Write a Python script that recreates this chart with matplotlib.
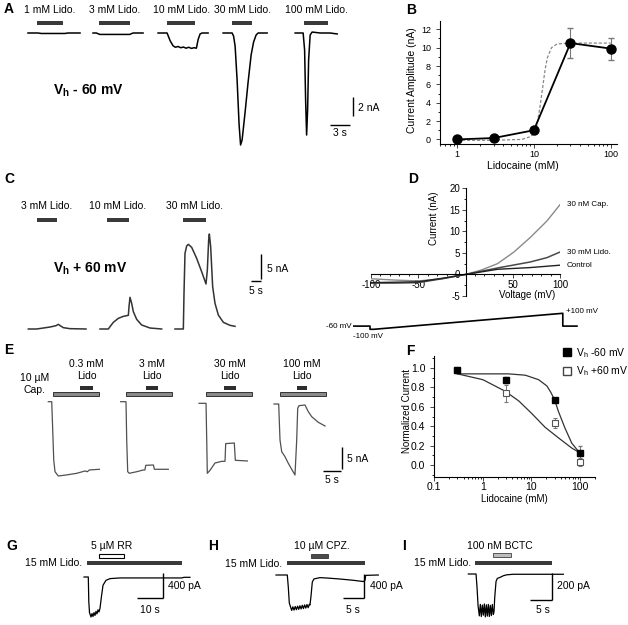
import numpy as np
import matplotlib
matplotlib.use('Agg')
import matplotlib.pyplot as plt
from matplotlib.lines import Line2D
from matplotlib.ticker import MultipleLocator, LogLocator, NullFormatter

plt.rcParams['font.family'] = ['Liberation Sans', 'DejaVu Sans']
plt.rcParams['mathtext.fontset'] = 'custom'
plt.rcParams['mathtext.rm'] = 'Liberation Sans'
plt.rcParams['mathtext.bf'] = 'Liberation Sans:bold'
plt.rcParams['mathtext.it'] = 'Liberation Sans:italic'
plt.rcParams['axes.unicode_minus'] = False

# ---------------- data ----------------
# A: Vh -60 mV, time (s) vs current (nA)
a_labels = ['1 mM Lido.', '3 mM Lido.', '10 mM Lido.', '30 mM Lido.', '100 mM Lido.']
a_t = [
    [0, 1.5, 2.0, 5.5, 6.0, 7.8],
    [0, 0.5, 1.0, 5.5, 6.0, 7.5],
    [0, 1.35, 1.8, 2.25, 2.6, 3.0, 3.4, 3.8, 4.2, 4.6, 5.0, 5.4, 5.75, 6.0, 6.3, 6.6, 7.5],
    [0, 1.35, 1.57, 1.8, 2.1, 2.4, 2.62, 2.85, 3.3, 3.75, 4.2, 4.57, 4.95, 5.25, 6.6],
    [0, 1.2, 1.42, 1.57, 1.72, 1.87, 2.02, 2.25, 2.55, 3.75, 5.25, 6.3],
]
a_i = [
    [0, 0, -0.05, -0.05, 0, 0],
    [0, 0, -0.15, -0.15, 0, 0],
    [0, 0, -0.8, -1.35, -1.5, -1.42, -1.55, -1.48, -1.6, -1.5, -1.62, -1.55, -1.6, -0.7, -0.1, 0, 0],
    [0, 0, -0.32, -1.37, -4.95, -9.68, -11.79, -11.26, -8.32, -5.16, -2.32, -0.95, -0.21, 0, 0],
    [0, 0, -1.79, -7.05, -10.74, -8.11, -2.84, -0.21, 0.1, 0, 0, -0.1],
]
a_drug = [(1.35, 5.25), (0.9, 5.55), (1.35, 5.55), (1.35, 4.35), (1.35, 4.95)]

# B: dose response
b_conc = [1, 3, 10, 30, 100]
b_amp = [0.0, 0.15, 1.0, 10.5, 9.9]
b_err = [0.0, 0.0, 0.0, 1.6, 1.2]
b_fit_x = [1, 3, 7, 9, 10, 11, 12, 13, 14, 15, 17, 20, 30, 100]
b_fit_y = [-0.1, -0.1, 0.0, 0.3, 0.6, 1.6, 3.5, 5.6, 7.6, 8.9, 10.0, 10.4, 10.5, 10.5]

# C: Vh +60 mV
c_labels = ['3 mM Lido.', '10 mM Lido.', '30 mM Lido.']
c_t = [
    [0, 4.17, 7.5, 10.83, 13.83, 15.0, 16.17, 17.5, 20.83, 28.83],
    [0, 4.17, 5.0, 6.67, 9.17, 11.67, 14.17, 14.5, 15.0, 15.83, 16.67, 18.33, 20.83, 25.0, 30.83],
    [0, 4.17, 4.5, 5.0, 5.83, 6.67, 8.33, 10.83, 13.33, 15.5, 16.17, 16.83, 17.17, 17.83, 18.83,
     20.0, 21.67, 24.17, 27.5, 30.0],
]
c_i = [
    [0, 0, 0.2, 0.4, 0.67, 0.94, 0.61, 0.27, 0.07, 0],
    [0, 0, 0.47, 1.35, 2.16, 2.56, 2.77, 4.52, 6.41, 5.2, 3.51, 1.96, 0.81, 0.2, 0],
    [0, 0, 7.22, 15.32, 16.8, 17.14, 16.53, 14.3, 11.6, 9.11, 11.94, 18.02, 19.23, 16.67, 8.57,
     5.2, 2.83, 1.35, 0.74, 0.54],
]
c_drug = [(4.35, 14.35), (3.5, 14.5), (4.0, 15.5)]

# D: I-V curves (mV, nA)
d_v_cap = [-100, -75, -50, -25, 0, 16.4, 33.8, 51.2, 68.6, 86.1, 100]
d_i_cap = [-1.0, -1.3, -1.5, -1.0, 0, 1.0, 2.5, 5.2, 8.6, 12.4, 16.2]
d_v_lido = [-100, -75, -50, -25, 0, 33.8, 68.6, 86.1, 100]
d_i_lido = [-2.0, -2.0, -1.9, -1.0, 0, 1.5, 2.9, 3.9, 5.2]
d_v_ctrl = [-100, -75, -50, -25, 0, 33.8, 68.6, 100]
d_i_ctrl = [-1.9, -1.8, -1.7, -0.9, 0, 1.2, 1.6, 2.15]
prot_t = [0, 90, 90, 110, 1110, 1110, 1185]
prot_v = [-60, -60, -100, -100, 100, -60, -60]

# E: 10 uM capsaicin + lidocaine
e_labels = ['0.3 mM\nLido', '3 mM\nLido', '30 mM\nLido', '100 mM\nLido']
e_t = [
    [0, 0.98, 1.27, 1.56, 1.93, 2.88, 5.10, 8.18, 10.58, 11.24, 11.82, 14.70],
    [0, 1.53, 1.73, 2.02, 2.48, 4.61, 6.51, 6.97, 7.23, 9.42, 9.71, 13.72],
    [0, 2.02, 2.22, 2.39, 3.17, 4.61, 6.54, 7.49, 7.69, 10.17, 10.46, 13.92],
    [0, 1.35, 1.73, 2.22, 3.17, 4.12, 5.1, 6.05, 6.54, 6.83, 7.2, 8.93, 9.89, 10.86, 12.77, 14.70],
]
e_i = [
    [0, 0, -6.54, -13.46, -16.17, -17.16, -16.93, -16.54, -16.0, -16.17, -15.77, -15.61],
    [0, 0, -8.85, -16.17, -16.54, -16.17, -15.77, -15.77, -14.69, -14.62, -15.61, -15.61],
    [-0.37, -0.37, -8.85, -16.54, -15.84, -14.16, -13.77, -13.77, -9.68, -9.54, -13.53, -13.69],
    [-0.53, -0.53, -8.85, -11.55, -12.7, -14.23, -15.61, -16.93, -8.85, -1.52, -0.92, -0.76,
     -2.31, -3.46, -4.76, -5.61],
]
e_cap = [(1.35, 14.7), (1.53, 14.87), (1.93, 15.19), (1.73, 14.9)]
e_lido = [(9.14, 12.8), (7.29, 10.75), (7.2, 10.66), (6.63, 9.51)]

# F: normalized current
f_conc = [0.3, 3, 30, 100]
f_neg60 = [0.98, 0.88, 0.67, 0.12]
f_neg60_err = [0.01, 0.03, 0.01, 0.08]
f_pos60 = [0.98, 0.74, 0.43, 0.03]
f_pos60_err = [0.01, 0.09, 0.05, 0.04]
f_fit1_x = [0.3, 3.4, 7.5, 14, 20.8, 25, 30, 36, 49, 67.6, 100]
f_fit1_y = [0.94, 0.94, 0.926, 0.88, 0.815, 0.75, 0.67, 0.55, 0.38, 0.225, 0.12]
f_fit2_x = [0.3, 1, 2.9, 5.5, 10.2, 19, 36, 67.6, 100]
f_fit2_y = [0.94, 0.88, 0.76, 0.66, 0.53, 0.39, 0.28, 0.175, 0.125]

# G, H, I: 15 mM lidocaine + blockers (s, pA)
g_t = [0, 1.72, 1.92, 2.2, 2.8, 3.2, 3.6, 4.0, 4.4, 4.8, 5.2, 5.6, 6.0, 6.4, 7.0, 7.6, 8.8,
       10.4, 14.4, 26.4, 39.1, 40.0, 42.4]
g_i = [0, 0, -395, -570, -640, -585, -632, -570, -615, -550, -590, -525, -560, -500, -307, -132,
       -53, -26, -15, -15, -15, -5, -5]
h_t = [0, 2.88, 3.14, 3.39, 4.0, 4.3, 4.6, 4.9, 5.2, 5.5, 5.8, 6.1, 6.4, 6.7, 7.0, 7.3, 7.6, 7.9,
       8.2, 8.5, 8.67, 8.93, 9.26, 9.69, 11.22, 12.93, 16.33, 19.72, 22.27, 22.7, 22.88, 26.1]
h_i = [0, 0, -205, -467, -590, -530, -585, -525, -578, -520, -572, -512, -566, -505, -560, -498,
       -552, -492, -545, -488, -500, -350, -117, -65, -44, -50, -67, -88, -109, -88, -6, 0]
i_t = [0, 1.93, 2.18, 2.43, 2.75, 3.0, 3.25, 3.5, 3.75, 4.0, 4.25, 4.5, 4.75, 5.0, 5.25, 5.5,
       5.75, 6.0, 6.25, 6.43, 6.6, 6.93, 7.25, 7.93, 8.75, 9.6, 11.25, 23.75]
i_i = [0, 0, -99, -233, -310, -225, -315, -230, -305, -222, -318, -228, -312, -225, -315, -232,
       -308, -226, -300, -278, -174, -55, -33, -25, -13, -6, -2, -2]

# ---------------- figure ----------------
W, H = 628, 625
fig = plt.figure(figsize=(W / 100, H / 100), dpi=100)
DARK = '#3a3a3a'


def px_axes(x0, y0, w, h):
    ax = fig.add_axes([x0 / W, 1 - (y0 + h) / H, w / W, h / H])
    ax.patch.set_visible(False)
    return ax


def trace_axes(x0, y0, w, h, px_x, px_y, base_y):
    # invisible axes where 1 unit = px_x / px_y pixels and 0 sits at base_y
    ax = px_axes(x0, y0, w, h)
    ax.set_xlim(0, w / px_x)
    ax.set_ylim(-(y0 + h - base_y) / px_y, (base_y - y0) / px_y)
    ax.axis('off')
    return ax


def letter(x, y, s):
    fig.text(x / W, 1 - y / H, s, fontsize=10, fontweight='bold', ha='left', va='center')


def sline(ax, xs, ys):
    ax.plot(xs, ys, color='k', lw=1.0, solid_capstyle='butt', clip_on=False)


# ---- A ----
ax_a = trace_axes(20, 0, 350, 160, 6.67, 9.5, 33)
a_pos = [1.2, 10.95, 20.7, 30.45, 41.25]
for k in range(5):
    off = a_pos[k]
    ax_a.plot(np.array(a_t[k]) + off, a_i[k], color='k', lw=1.1)
    d0, d1 = a_drug[k]
    ax_a.barh(1.05, d1 - d0, left=off + d0, height=0.42, color=DARK)
    ax_a.text(off + (d0 + d1) / 2, 2.42, a_labels[k], ha='center', va='center', fontsize=7.5)
ax_a.text(4.95, -6.1, r'V$_\mathbf{h}$ - 60 mV', fontsize=10, fontweight='bold', va='center')
sline(ax_a, [46.5, 49.5], [-9.68, -9.68])
sline(ax_a, [49.95, 49.95], [-6.74, -8.77])
ax_a.text(50.6, -7.9, '2 nA', fontsize=7.5, va='center')
ax_a.text(48.0, -10.5, '3 s', fontsize=7.5, ha='center', va='center')
letter(4, 9, 'A')

# ---- B ----
ax_b = px_axes(440, 20.7, 177, 123.3)
ax_b.plot(b_fit_x, b_fit_y, color='#888888', ls=(0, (2.5, 1.5)), lw=0.9)
ax_b.errorbar(b_conc, b_amp, yerr=b_err, fmt='-o', color='k', ms=6.5, lw=1.3,
              ecolor='#777777', elinewidth=0.8, capsize=2)
ax_b.set_xscale('log')
ax_b.set_xlim(0.6, 121)
ax_b.set_ylim(-0.5, 12.94)
ax_b.set_xticks([1, 10, 100])
ax_b.set_xticklabels(['1', '10', '100'])
ax_b.xaxis.set_minor_locator(LogLocator(subs=np.arange(2, 10)))
ax_b.xaxis.set_minor_formatter(NullFormatter())
ax_b.set_yticks(range(0, 13, 2))
ax_b.yaxis.set_minor_locator(MultipleLocator(1))
for s in ['top', 'right']:
    ax_b.spines[s].set_visible(False)
ax_b.tick_params(labelsize=6.5, length=3, width=0.7, color='#444')
ax_b.tick_params(axis='x', pad=1.5)
ax_b.tick_params(which='minor', length=1.5, width=0.6)
ax_b.set_ylabel('Current Amplitude (nA)', fontsize=7.5)
ax_b.set_xlabel('Lidocaine (mM)', fontsize=7.5)
ax_b.yaxis.set_label_coords(-0.13, 0.52)
ax_b.xaxis.set_label_coords(0.47, -0.135)
letter(406, 10, 'B')

# ---- C ----
ax_c = trace_axes(20, 170, 290, 170, 2.0, 4.94, 329)
c_pos = [4.17, 40.0, 77.5]
for k in range(3):
    off = c_pos[k]
    ax_c.plot(np.array(c_t[k]) + off, c_i[k], color='#333333', lw=1.1)
    d0, d1 = c_drug[k]
    ax_c.barh(22.06, d1 - d0, left=off + d0, height=0.81, color=DARK)
    ax_c.text(off + (d0 + d1) / 2, 24.96, c_labels[k], ha='center', va='center', fontsize=7.5)
ax_c.text(16.5, 12.15, r'V$_\mathbf{h}$ + 60 mV', fontsize=10, fontweight='bold', va='center')
sline(ax_c, [115.35, 120.35], [9.78, 9.78])
sline(ax_c, [120.5, 120.5], [10.12, 15.12])
ax_c.text(123.5, 12.2, '5 nA', fontsize=7.5, va='center')
ax_c.text(117.85, 7.69, '5 s', fontsize=7.5, ha='center', va='center')
letter(4, 179, 'C')

# ---- D ----
ax_d = px_axes(371, 188.3, 189, 107.7)
ax_d.plot(d_v_cap, d_i_cap, color='#8a8a8a', lw=1.0)
ax_d.plot(d_v_lido, d_i_lido, color='#4a4a4a', lw=1.1)
ax_d.plot(d_v_ctrl, d_i_ctrl, color='#222222', lw=1.0)
ax_d.set_xlim(-100, 100)
ax_d.set_ylim(-5, 20)
ax_d.spines['left'].set_position(('data', 0))
ax_d.spines['bottom'].set_position(('data', 0))
for s in ['top', 'right']:
    ax_d.spines[s].set_visible(False)
ax_d.set_xticks([-100, -50, 0, 50, 100])
ax_d.set_xticklabels(['-100', '-50', '', '50', '100'])
ax_d.set_yticks([-5, 0, 5, 10, 15, 20])
ax_d.xaxis.set_minor_locator(MultipleLocator(10))
ax_d.yaxis.set_minor_locator(MultipleLocator(2.5))
ax_d.tick_params(labelsize=7, length=3, width=0.7, color='#444', pad=1)
ax_d.tick_params(which='minor', length=1.5, width=0.6)
ax_d.set_ylabel('Current (nA)', fontsize=7)
ax_d.set_xlabel('Voltage (mV)', fontsize=7)
ax_d.yaxis.set_label_coords(0.36, 0.72)
ax_d.xaxis.set_label_coords(0.825, 0.06)
ax_d.text(107, d_i_cap[-1], '30 nM Cap.', fontsize=5.8, va='center')
ax_d.text(107, d_i_lido[-1], '30 mM Lido.', fontsize=5.8, va='center')
ax_d.text(107, d_i_ctrl[-1], 'Control', fontsize=5.8, va='center')
letter(408, 179, 'D')

ax_p = trace_axes(353, 305, 237, 35, 0.189, 0.08, 321.3)
ax_p.plot(prot_t, prot_v, color='k', lw=1.2)
ax_p.text(-5, -60, '-60 mV', fontsize=5.8, ha='right', va='center')
ax_p.text(79, -192, '-100 mV', fontsize=5.8, ha='center', va='center')
ax_p.text(1127, 120, '+100 mV', fontsize=5.8, ha='left', va='center')

# ---- E ----
ax_e = trace_axes(20, 345, 340, 140, 3.47, 4.33, 401.7)
e_pos = [8.16, 29.02, 51.59, 73.2]
for k in range(4):
    off = e_pos[k]
    ax_e.plot(np.array(e_t[k]) + off, e_i[k], color='#505050', lw=0.9)
    c0, c1 = e_cap[k]
    ax_e.barh(1.78, c1 - c0, left=off + c0, height=1.15, color='#8a8a8a',
              edgecolor='#333333', lw=0.7)
    l0, l1 = e_lido[k]
    ax_e.barh(3.23, l1 - l0, left=off + l0, height=1.0, color='#2e2e2e')
    ax_e.text(off + (l0 + l1) / 2, 7.39, e_labels[k], ha='center', va='center',
              fontsize=7.5, linespacing=1.3)
ax_e.text(4.3, 4.05, '10 µM\nCap.', ha='center', va='center', fontsize=7.5, linespacing=1.3)
sline(ax_e, [87.4, 92.4], [-15.89, -15.89])
sline(ax_e, [92.9, 92.9], [-10.53, -15.54])
ax_e.text(94.2, -13.2, '5 nA', fontsize=7.5, va='center')
ax_e.text(89.9, -17.97, '5 s', fontsize=7.5, ha='center', va='center')
letter(4, 350, 'E')

# ---- F ----
ax_f = px_axes(434.3, 356.4, 160.4, 120.3)
ax_f.plot(f_fit1_x, f_fit1_y, color='#333333', lw=0.9)
ax_f.plot(f_fit2_x, f_fit2_y, color='#333333', lw=0.9)
ax_f.errorbar(f_conc, f_pos60, yerr=f_pos60_err, fmt='s', ms=5, mfc='white', mec='#555555',
              mew=0.8, ecolor='#777777', elinewidth=0.7, capsize=1.5)
ax_f.errorbar(f_conc, f_neg60, yerr=f_neg60_err, fmt='s', ms=5, color='k',
              ecolor='#777777', elinewidth=0.7, capsize=1.5)
ax_f.set_xscale('log')
ax_f.set_xlim(0.1, 200)
ax_f.set_ylim(-0.12, 1.12)
ax_f.set_xticks([0.1, 1, 10, 100])
ax_f.set_xticklabels(['0.1', '1', '10', '100'])
ax_f.xaxis.set_minor_locator(LogLocator(subs=np.arange(2, 10)))
ax_f.xaxis.set_minor_formatter(NullFormatter())
ax_f.set_yticks([0, 0.2, 0.4, 0.6, 0.8, 1.0])
ax_f.set_yticklabels(['0.0', '0.2', '0.4', '0.6', '0.8', '1.0'])
ax_f.yaxis.set_minor_locator(MultipleLocator(0.1))
for s in ['top', 'right']:
    ax_f.spines[s].set_visible(False)
ax_f.tick_params(labelsize=7.5, length=3, width=0.7, color='#444')
ax_f.tick_params(axis='x', pad=1)
ax_f.tick_params(which='minor', length=1.5, width=0.6)
ax_f.set_ylabel('Normalized Current', fontsize=7)
ax_f.set_xlabel('Lidocaine (mM)', fontsize=7)
ax_f.yaxis.set_label_coords(-0.14, 0.55)
ax_f.xaxis.set_label_coords(0.5, -0.14)
h1 = Line2D([], [], marker='s', color='k', ls='none', ms=6)
h2 = Line2D([], [], marker='s', mfc='white', mec='#444444', ls='none', ms=6)
fig.legend([h1, h2], [r'V$_\mathregular{h}$ -60 mV', r'V$_\mathregular{h}$ +60 mV'],
           loc='upper left', bbox_to_anchor=(563 / W, 1 - 346 / H), frameon=False,
           fontsize=7.5, handlelength=0.8, handletextpad=0.4, labelspacing=0.45,
           borderpad=0, borderaxespad=0)
letter(406, 351, 'F')

# ---- G ----
ax_g = trace_axes(0, 530, 210, 95, 2.5, 0.0625, 577)
ax_g.plot(np.array(g_t) + 33.6, g_i, color='k', lw=0.9)
ax_g.barh(224, 38.0, left=34.9, height=64, color=DARK)
ax_g.barh(336, 9.9, left=39.7, height=56, color='white', edgecolor='k', lw=0.8)
ax_g.text(44.7, 496, '5 µM RR', fontsize=7.5, ha='center', va='center')
ax_g.text(32.8, 224, '15 mM Lido.', fontsize=7.5, ha='right', va='center')
sline(ax_g, [54.8, 65.2], [-336, -336])
sline(ax_g, [65.2, 65.2], [64, -336])
ax_g.text(67.2, -144, '400 pA', fontsize=7.5, va='center')
ax_g.text(60.0, -528, '10 s', fontsize=7.5, ha='center', va='center')
letter(6, 546, 'G')

# ---- H ----
ax_h = trace_axes(200, 530, 210, 95, 3.92, 0.06, 575)
ax_h.plot(np.array(h_t) + 19.39, h_i, color='k', lw=0.9)
ax_h.barh(200, 19.8, left=22.27, height=67, color=DARK)
ax_h.barh(317, 4.35, left=28.3, height=58, color='#4a4a4a', edgecolor='#333333', lw=0.6)
ax_h.text(31.05, 483, '10 µM CPZ.', fontsize=7.5, ha='center', va='center')
ax_h.text(20.84, 183, '15 mM Lido.', fontsize=7.5, ha='right', va='center')
sline(ax_h, [36.4, 41.9], [-383, -383])
sline(ax_h, [41.9, 41.9], [17, -383])
ax_h.text(43.4, -183, '400 pA', fontsize=7.5, va='center')
ax_h.text(38.95, -583, '5 s', fontsize=7.5, ha='center', va='center')
letter(208, 546, 'H')

# ---- I ----
ax_i = trace_axes(400, 530, 228, 95, 4.0, 0.135, 574)
ax_i.plot(np.array(i_t) + 17.08, i_i, color='k', lw=0.9)
ax_i.barh(81, 19.15, left=18.75, height=30, color=DARK)
ax_i.barh(141, 4.5, left=23.25, height=26, color='#bdbdbd', edgecolor='#555555', lw=0.7)
ax_i.text(25.0, 207, '100 nM BCTC', fontsize=7.5, ha='center', va='center')
ax_i.text(17.9, 81, '15 mM Lido.', fontsize=7.5, ha='right', va='center')
sline(ax_i, [32.5, 38.1], [-193, -193])
sline(ax_i, [38.1, 38.1], [7, -193])
ax_i.text(39.2, -89, '200 pA', fontsize=7.5, va='center')
ax_i.text(35.8, -267, '5 s', fontsize=7.5, ha='center', va='center')
letter(402, 546, 'I')

fig.savefig('out.png', dpi=100)
